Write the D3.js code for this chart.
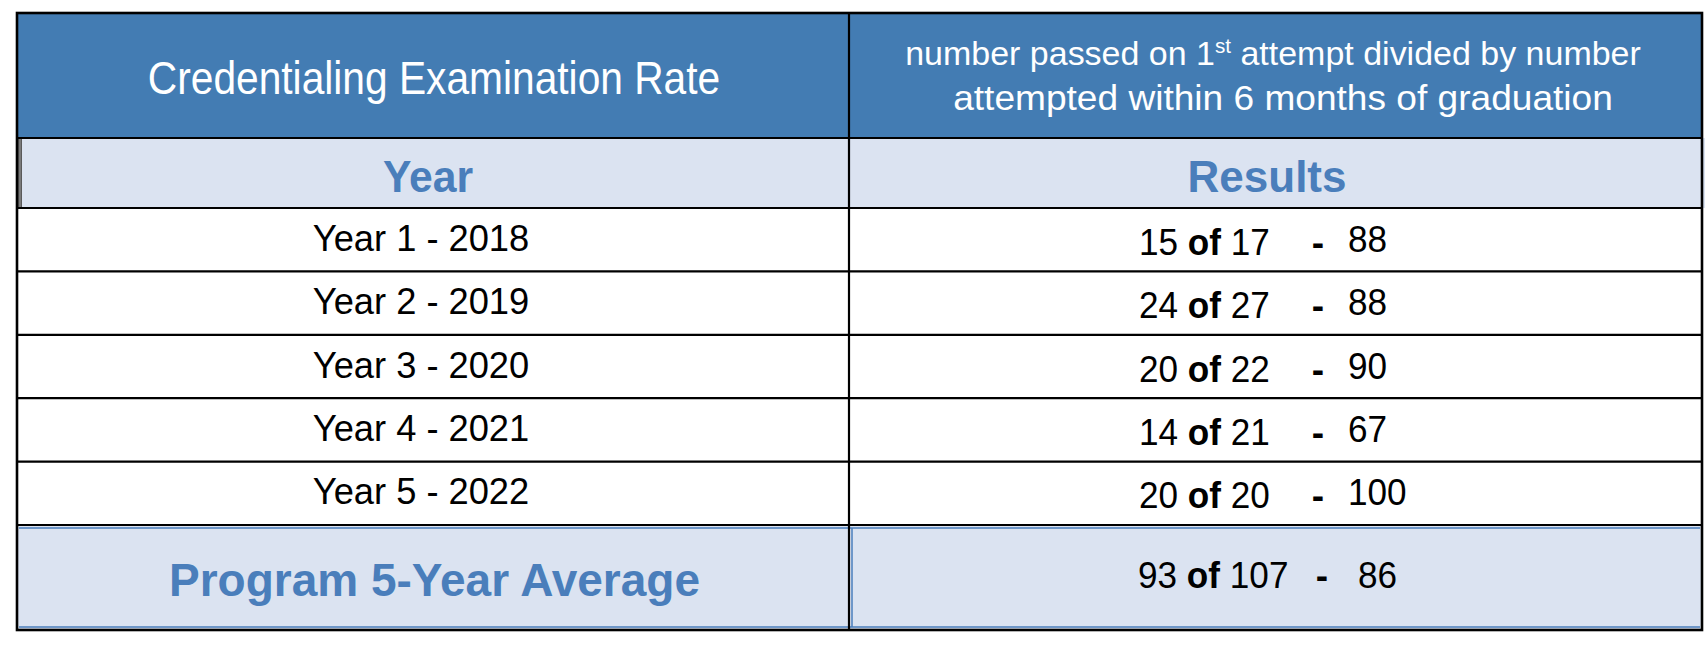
<!DOCTYPE html>
<html>
<head>
<meta charset="utf-8">
<script src="https://cdn.jsdelivr.net/npm/d3@7"></script>
<style>
  body { margin: 0; background: #fff; }
  svg { display: block; font-family: "Liberation Sans", Arial, Helvetica, sans-serif; }
</style>
</head>
<body>
<svg id="chart" width="1708" height="648"></svg>
<script>
// table content
const headerLeft = "Credentialing Examination Rate";
const headerRight1 = ["number passed on 1", "st", " attempt divided by number"];
const headerRight2 = "attempted within 6 months of graduation";
const colTitles = ["Year", "Results"];
const years = ["Year 1 - 2018", "Year 2 - 2019", "Year 3 - 2020", "Year 4 - 2021", "Year 5 - 2022"];
const passed = [15, 24, 20, 14, 20];
const attempted = [17, 27, 22, 21, 20];
const rates = [88, 88, 90, 67, 100];
const avgLabel = "Program 5-Year Average";
const avgPassed = 93, avgAttempted = 107, avgRate = 86;

const blue = "#437cb3",
  light = "#dbe3f1",
  textBlue = "#4a7ebb";

const xLeft = 17, xSplit = 849, xRight = 1702,
  yTop = 13, yHead = 138, ySub = 208, yRows = 525, yBottom = 630;

const svg = d3.select("#chart");

let rows = years.map((y, i) => ({ year: y, passed: passed[i], attempted: attempted[i], rate: rates[i] }));

let rowY = d3.scaleBand().domain(years).range([ySub, yRows]);

// backgrounds
svg.append("rect").attr("x", xLeft).attr("y", yTop).attr("width", xRight - xLeft).attr("height", yHead - yTop).attr("fill", blue);
svg.append("rect").attr("x", xLeft).attr("y", yHead).attr("width", xRight - xLeft + 3).attr("height", ySub - yHead).attr("fill", light);
svg.append("rect").attr("x", xLeft).attr("y", yRows).attr("width", xRight - xLeft).attr("height", yBottom - yRows).attr("fill", light);

// thin blue rules inside the average row
let avgLines = svg.append("g").attr("stroke", textBlue).attr("stroke-width", 1.5);
avgLines.append("line").attr("x1", xLeft + 2).attr("x2", xRight - 2).attr("y1", yRows + 3).attr("y2", yRows + 3);
avgLines.append("line").attr("x1", xLeft + 2).attr("x2", xRight - 2).attr("y1", yBottom - 3).attr("y2", yBottom - 3);
avgLines.append("line").attr("x1", xSplit + 3).attr("x2", xSplit + 3).attr("y1", yRows + 3).attr("y2", yBottom - 3);

// gray double edge on the year/results row
svg.append("rect").attr("x", xLeft + 1).attr("y", yHead + 1).attr("width", 4).attr("height", ySub - yHead - 2).attr("fill", "#5a5a5a");
svg.append("line").attr("x1", xLeft + 3).attr("x2", xLeft + 3).attr("y1", yHead + 1).attr("y2", ySub - 1)
  .attr("stroke", "#9a9a9a").attr("stroke-width", 1);

// grid lines
let grid = svg.append("g").attr("stroke", "#000").attr("stroke-width", 2.2);
let hLines = [yHead, ySub].concat(years.slice(1).map(y => rowY(y)), [yRows]);
grid.selectAll("line.h").data(hLines).enter().append("line")
  .attr("class", "h")
  .attr("x1", xLeft).attr("x2", xRight)
  .attr("y1", d => d).attr("y2", d => d);
grid.append("line").attr("x1", xSplit).attr("x2", xSplit).attr("y1", yTop).attr("y2", yBottom);
grid.append("rect").attr("x", xLeft).attr("y", yTop).attr("width", xRight - xLeft).attr("height", yBottom - yTop)
  .attr("fill", "none").attr("stroke-width", 2.6);

// text helper: squeezed horizontally to match the narrow look of the source
function label(x, y, size, sx, anchor) {
  return svg.append("text")
    .attr("transform", "translate(" + x + "," + y + ") scale(" + sx + ",1)")
    .attr("font-size", size)
    .attr("text-anchor", anchor || "middle");
}

// header
label(434, 94, 46, 0.885).attr("fill", "#fff").text(headerLeft);

let h1 = label(1273, 65, 33, 1.03).attr("fill", "#fff");
h1.append("tspan").text(headerRight1[0]);
h1.append("tspan").attr("font-size", 20).attr("dy", -12).text(headerRight1[1]);
h1.append("tspan").attr("dy", 12).text(headerRight1[2]);
label(1283, 110, 35, 1.06).attr("fill", "#fff").text(headerRight2);

// column titles
label(428, 192, 44, 0.97).attr("fill", textBlue).attr("font-weight", "bold").text(colTitles[0]);
label(1267, 192, 44, 1).attr("fill", textBlue).attr("font-weight", "bold").text(colTitles[1]);

// data rows
rows.forEach(function(d) {
  let cy = rowY(d.year) + rowY.bandwidth() / 2;
  label(421, cy + 11, 37, 0.98).attr("fill", "#000").text(d.year);

  let res = label(1139, cy + 15, 37, 0.95, "start").attr("fill", "#000");
  res.append("tspan").text(d.passed + " ");
  res.append("tspan").attr("font-weight", "bold").text("of");
  res.append("tspan").text(" " + d.attempted);

  label(1318, cy + 15, 37, 1).attr("fill", "#000").attr("font-weight", "bold").text("-");
  label(1348, cy + 12, 37, 0.95, "start").attr("fill", "#000").text(d.rate);
});

// average row
label(434.5, 596, 46, 1).attr("fill", textBlue).attr("font-weight", "bold").text(avgLabel);
let avg = label(1138, 588, 37, 0.95, "start").attr("fill", "#000");
avg.append("tspan").text(avgPassed + " ");
avg.append("tspan").attr("font-weight", "bold").text("of");
avg.append("tspan").text(" " + avgAttempted);
label(1322, 588, 37, 1).attr("fill", "#000").attr("font-weight", "bold").text("-");
label(1358, 588, 37, 0.95, "start").attr("fill", "#000").text(avgRate);
</script>
</body>
</html>
